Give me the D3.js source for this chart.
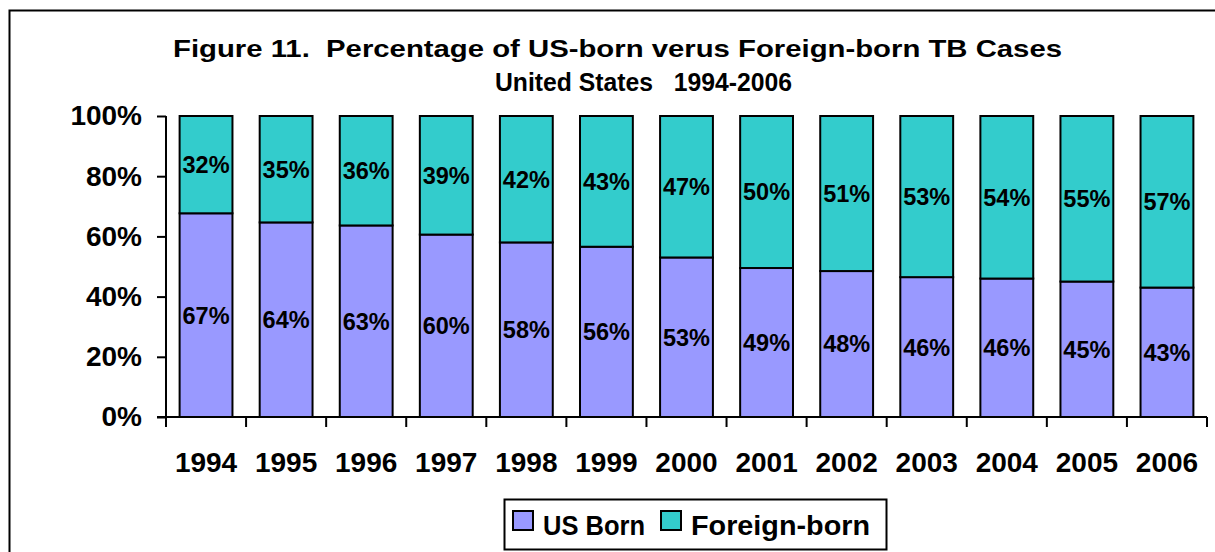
<!DOCTYPE html>
<html>
<head>
<meta charset="utf-8">
<script src="https://cdn.jsdelivr.net/npm/d3@7"></script>
<style>
  body { margin: 0; background: #fff; }
  svg { display: block; font-family: "Liberation Sans", Arial, sans-serif; font-weight: bold; }
</style>
</head>
<body>
<div id="chart"></div>
<script>
// data
var years = ["1994", "1995", "1996", "1997", "1998", "1999", "2000", "2001", "2002", "2003", "2004", "2005", "2006"];
var usBorn = [67, 64, 63, 60, 58, 56, 53, 49, 48, 46, 46, 45, 43];
var foreignBorn = [32, 35, 36, 39, 42, 43, 47, 50, 51, 53, 54, 55, 57];
var yTicks = [0, 0.2, 0.4, 0.6, 0.8, 1];
var seriesNames = ["US Born", "Foreign-born"];
var colors = ["#9999ff", "#33cccc"];

var width = 1215, height = 552;
var margin = { top: 116, right: 8, bottom: 135, left: 166 };

var svg = d3.select("#chart").append("svg")
    .attr("width", width)
    .attr("height", height);

// outer frame (runs off right/bottom edge like the original)
svg.append("rect")
    .attr("x", 9.5).attr("y", 10.5)
    .attr("width", width + 20).attr("height", height + 20)
    .attr("fill", "none").attr("stroke", "#000").attr("stroke-width", 2);

// title - the original is stretched sideways, so fit each line to its width
var title = svg.append("g").attr("fill", "#000");
title.append("text").attr("x", 173).attr("y", 57)
    .attr("font-size", 24.5)
    .attr("textLength", 889).attr("lengthAdjust", "spacingAndGlyphs")
    .style("white-space", "pre")
    .text("Figure 11.  Percentage of US-born verus Foreign-born TB Cases");
title.append("text").attr("x", 495).attr("y", 91)
    .attr("font-size", 26)
    .attr("textLength", 297).attr("lengthAdjust", "spacingAndGlyphs")
    .style("white-space", "pre")
    .text("United States   1994-2006");

// table for the stack
var table = years.map(function(y, i) {
  return { year: y, "US Born": usBorn[i], "Foreign-born": foreignBorn[i] };
});

var stack = d3.stack().keys(seriesNames).offset(d3.stackOffsetExpand);
var layers = stack(table);

var x = d3.scaleBand()
    .domain(years)
    .range([margin.left, width - margin.right])
    .paddingInner(0.34)
    .paddingOuter(0.17);

var y = d3.scaleLinear()
    .domain([0, 1])
    .range([height - margin.bottom, margin.top]);

// bars
var groups = svg.selectAll("g.layer")
    .data(layers)
    .enter().append("g")
    .attr("class", "layer")
    .attr("fill", function(d, i) { return colors[i]; });

groups.selectAll("rect")
    .data(function(d) { return d; })
    .enter().append("rect")
    .attr("x", function(d) { return x(d.data.year); })
    .attr("y", function(d) { return y(d[1]); })
    .attr("width", x.bandwidth())
    .attr("height", function(d) { return y(d[0]) - y(d[1]); })
    .attr("stroke", "#000")
    .attr("stroke-width", 2);

// value labels
groups.selectAll("text")
    .data(function(d) { return d.map(function(p) { return { p: p, key: d.key }; }); })
    .enter().append("text")
    .attr("x", function(d) { return x(d.p.data.year) + x.bandwidth() / 2; })
    .attr("y", function(d) { return (y(d.p[0]) + y(d.p[1])) / 2; })
    .attr("dy", "0.36em")
    .attr("text-anchor", "middle")
    .attr("font-size", 23.5)
    .attr("fill", "#000")
    .text(function(d) { return d.p.data[d.key] + "%"; });

// y axis
var yAxis = svg.append("g")
    .attr("transform", "translate(" + margin.left + ",0)")
    .call(d3.axisLeft(y).tickValues(yTicks).tickFormat(d3.format(".0%")).tickSize(9).tickPadding(15));
yAxis.selectAll("text").attr("font-size", 28).attr("fill", "#000").attr("font-family", "Liberation Sans, Arial, sans-serif").attr("font-weight", "bold");
yAxis.select(".domain").attr("stroke-width", 2).attr("d", "M0," + y(1) + "V" + y(0));
yAxis.selectAll(".tick line").attr("stroke-width", 2);

// x axis: line + boundary ticks + labels
var xAxis = svg.append("g")
    .attr("transform", "translate(0," + y(0) + ")");
xAxis.append("line")
    .attr("x1", margin.left - 9).attr("x2", width - margin.right)
    .attr("stroke", "#000").attr("stroke-width", 2);

var bounds = d3.range(years.length + 1).map(function(i) {
  return x.range()[0] + i * x.step();
});
xAxis.selectAll("line.tick")
    .data(bounds)
    .enter().append("line")
    .attr("class", "tick")
    .attr("x1", function(d) { return d; }).attr("x2", function(d) { return d; })
    .attr("y1", 0).attr("y2", 10)
    .attr("stroke", "#000").attr("stroke-width", 2);

xAxis.selectAll("text")
    .data(years)
    .enter().append("text")
    .attr("x", function(d) { return x(d) + x.bandwidth() / 2; })
    .attr("y", 55)
    .attr("text-anchor", "middle")
    .attr("font-size", 28)
    .attr("fill", "#000")
    .text(function(d) { return d; });

// legend
var legend = svg.append("g").attr("transform", "translate(504,499)");
legend.append("rect")
    .attr("x", 0.5).attr("y", 0.5).attr("width", 382).attr("height", 50)
    .attr("fill", "#fff").attr("stroke", "#000").attr("stroke-width", 2);

var legendX = [9, 157];
var legendW = [102, 179];
var item = legend.selectAll("g.item")
    .data(seriesNames)
    .enter().append("g")
    .attr("class", "item")
    .attr("transform", function(d, i) { return "translate(" + legendX[i] + ",0)"; });
item.append("rect")
    .attr("x", 0).attr("y", 12).attr("width", 20).attr("height", 19)
    .attr("fill", function(d, i) { return colors[i]; })
    .attr("stroke", "#000").attr("stroke-width", 2);
item.append("text")
    .attr("x", 30).attr("y", 36)
    .attr("font-size", 27)
    .attr("textLength", function(d, i) { return legendW[i]; })
    .attr("lengthAdjust", "spacingAndGlyphs")
    .attr("fill", "#000")
    .text(function(d) { return d; });
</script>
</body>
</html>
